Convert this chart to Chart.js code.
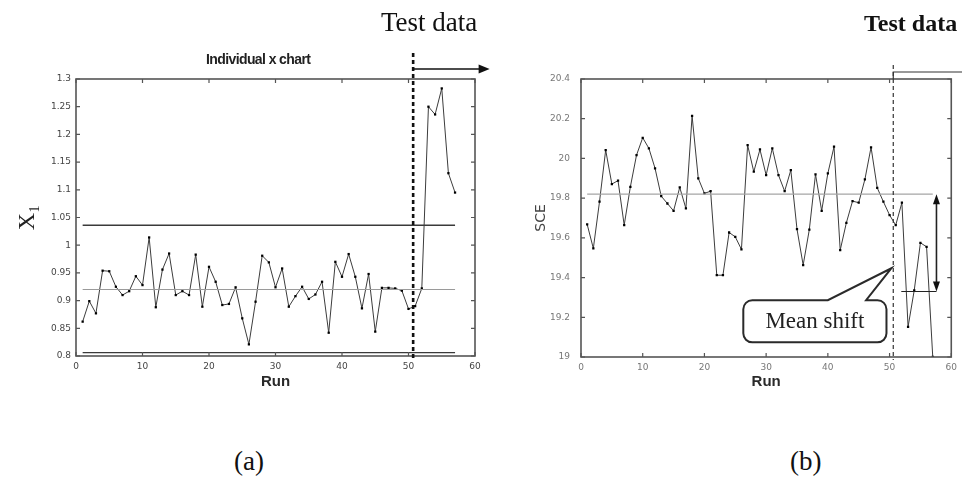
<!DOCTYPE html>
<html>
<head>
<meta charset="utf-8">
<script src="https://cdn.jsdelivr.net/npm/chart.js@4.4.0/dist/chart.umd.min.js"></script>
<style>
  html,body{margin:0;padding:0;background:#fff;}
  body{width:962px;height:485px;overflow:hidden;position:relative;}
  canvas{position:absolute;top:0;}
  #ca{left:0;}
  #cb{left:500px;}
  .txt{position:absolute;white-space:nowrap;color:#111;}
  .serif{font-family:"Liberation Serif","DejaVu Serif",serif;}
  .sans{font-family:"Liberation Sans","DejaVu Sans",sans-serif;}
</style>
</head>
<body>
<canvas id="ca" width="500" height="400"></canvas>
<canvas id="cb" width="462" height="400"></canvas>

<div class="txt serif" style="left:381px;top:7px;font-size:27px;">Test data</div>
<div class="txt serif" style="left:864px;top:10px;font-size:24px;font-weight:bold;">Test data</div>
<div class="txt sans" style="left:206px;top:51px;font-size:14px;font-weight:bold;letter-spacing:-0.6px;color:#222;">Individual x chart</div>
<div class="txt serif" style="left:234px;top:446px;font-size:27px;">(a)</div>
<div class="txt serif" style="left:790px;top:446px;font-size:27px;">(b)</div>
<div id="callout" class="txt serif" style="font-size:23px;color:#222;">Mean shift</div>

<script>
// ---------------- data ----------------
const runs = [1,2,3,4,5,6,7,8,9,10,11,12,13,14,15,16,17,18,19,20,21,22,23,24,25,26,27,28,29,30,
              31,32,33,34,35,36,37,38,39,40,41,42,43,44,45,46,47,48,49,50,51,52,53,54,55,56,57];
const x1Values = [0.862,0.899,0.877,0.954,0.953,0.925,0.910,0.917,0.944,0.928,
                  1.014,0.888,0.956,0.985,0.910,0.917,0.910,0.983,0.889,0.961,
                  0.934,0.892,0.894,0.924,0.868,0.821,0.898,0.981,0.969,0.924,
                  0.958,0.889,0.908,0.925,0.903,0.911,0.934,0.842,0.970,0.943,
                  0.984,0.943,0.886,0.948,0.844,0.923,0.923,0.922,0.918,0.885,
                  0.890,0.922,1.250,1.236,1.283,1.130,1.095];
const sceValues = [19.668,19.547,19.782,20.042,19.871,19.888,19.664,19.857,20.017,20.104,
                   20.051,19.950,19.810,19.773,19.736,19.854,19.748,20.214,19.900,19.824,
                   19.835,19.412,19.412,19.627,19.605,19.542,20.067,19.933,20.045,19.916,
                   20.051,19.916,19.835,19.941,19.644,19.463,19.642,19.920,19.736,19.925,
                   20.059,19.538,19.676,19.785,19.777,19.894,20.056,19.852,19.782,19.715,
                   19.664,19.777,19.152,19.336,19.575,19.555,19.000];
const xTicks = [0,10,20,30,40,50,60];
const x1Ticks = [0.8,0.85,0.9,0.95,1,1.05,1.1,1.15,1.2,1.25,1.3];
const sceTicks = [19,19.2,19.4,19.6,19.8,20,20.2,20.4];
const limitRuns = [1,57];
const x1UCL = 1.036, x1CL = 0.920, x1LCL = 0.806;
const sceCL = 19.82;
const sceShiftMean = 19.33;
const shiftRuns = [51.9,57.6];
const testStartA = 50.7, testStartB = 50.6;

// ---------------- helpers ----------------
const pts = (xs, ys) => xs.map((x,i)=>({x:x, y:ys[i]}));
const hline = (v, xs) => xs.map(r=>({x:r, y:v}));
const fmt = v => String(Number(v.toFixed(2)));

function lineDs(data, color, width, pr){
  return {data:data, borderColor:color, borderWidth:width, pointRadius:pr||0,
          pointBackgroundColor:'#000', pointBorderColor:'#000', pointBorderWidth:0,
          pointStyle:'rect', tension:0, fill:false};
}

function frameTicks(chart, xt, yt, col){
  const {ctx, chartArea:a, scales:{x, y}} = chart;
  ctx.save();
  ctx.strokeStyle = col; ctx.lineWidth = 1.6;
  ctx.strokeRect(a.left, a.top, a.right-a.left, a.bottom-a.top);
  ctx.lineWidth = 1.2;
  ctx.beginPath();
  xt.forEach(v=>{const p=x.getPixelForValue(v);
    ctx.moveTo(p,a.bottom); ctx.lineTo(p,a.bottom-4);
    ctx.moveTo(p,a.top); ctx.lineTo(p,a.top+4);});
  yt.forEach(v=>{const p=y.getPixelForValue(v);
    ctx.moveTo(a.left,p); ctx.lineTo(a.left+4,p);
    ctx.moveTo(a.right,p); ctx.lineTo(a.right-4,p);});
  ctx.stroke();
  ctx.restore();
}

function tri(ctx, x, y, dir, w, h){
  ctx.beginPath();
  if(dir==='right'){ctx.moveTo(x,y);ctx.lineTo(x-h,y-w/2);ctx.lineTo(x-h,y+w/2);}
  if(dir==='up'){ctx.moveTo(x,y);ctx.lineTo(x-w/2,y+h);ctx.lineTo(x+w/2,y+h);}
  if(dir==='down'){ctx.moveTo(x,y);ctx.lineTo(x-w/2,y-h);ctx.lineTo(x+w/2,y-h);}
  ctx.closePath(); ctx.fill();
}

function makeOptions(yTicks, yMin, yMax, cfg){
  return {
    responsive:false, animation:false, devicePixelRatio:1,
    layout:{padding:{top:79, right:cfg.padRight, bottom:0, left:0}},
    plugins:{legend:{display:false}, tooltip:{enabled:false}},
    scales:{
      x:{type:'linear', min:0, max:60,
         afterBuildTicks:s=>{s.ticks = xTicks.map(v=>({value:v}));},
         afterFit:s=>{s.height = cfg.xHeight;},
         grid:{display:false, drawTicks:false}, border:{display:false},
         ticks:{autoSkip:false, maxRotation:0, padding:5, color:cfg.tickColor,
                font:{family:'DejaVu Sans', size:9}, callback:v=>fmt(v)},
         title:{display:true, text:'Run', color:'#2a2a2a',
                font:{family:'Liberation Sans', size:15, weight:'bold'},
                padding:{top:0,bottom:9}}},
      y:{type:'linear', min:yMin, max:yMax,
         afterBuildTicks:s=>{s.ticks = yTicks.map(v=>({value:v}));},
         afterFit:s=>{s.width = cfg.yWidth;},
         grid:{display:false, drawTicks:false}, border:{display:false},
         ticks:{autoSkip:false, padding:cfg.yPad, color:cfg.tickColor,
                font:{family:'DejaVu Sans', size:9}, callback:v=>fmt(v)},
         title:{display:true, text:cfg.yTitle, color:cfg.yTitleColor,
                font:cfg.yTitleFont, padding:{top:cfg.yTitlePad, bottom:0}}}
    }
  };
}

// ---------------- chart (a) ----------------
const decoA = {id:'decoA', afterDraw(chart){
  const {ctx, chartArea:a, scales:{x}} = chart;
  frameTicks(chart, xTicks, x1Ticks, '#555');
  const xp = x.getPixelForValue(testStartA);
  ctx.save();
  ctx.strokeStyle = '#111'; ctx.lineWidth = 2.6; ctx.setLineDash([4,3]);
  ctx.beginPath(); ctx.moveTo(xp, a.top-26); ctx.lineTo(xp, a.bottom+3); ctx.stroke();
  ctx.setLineDash([]); ctx.lineWidth = 1.3;
  const ay = a.top-10;
  const xe = x.getPixelForValue(61.9);
  ctx.beginPath(); ctx.moveTo(xp, ay); ctx.lineTo(xe-8, ay); ctx.stroke();
  ctx.fillStyle = '#111'; tri(ctx, xe+2, ay, 'right', 9, 11);
  ctx.restore();
}};

new Chart(document.getElementById('ca'), {
  type:'line',
  data:{datasets:[
    lineDs(hline(x1UCL, limitRuns), '#3a3a3a', 1.3),
    lineDs(hline(x1CL, limitRuns), '#9a9a9a', 1.1),
    lineDs(hline(x1LCL, limitRuns), '#3a3a3a', 1.3),
    lineDs(pts(runs, x1Values), '#3c3c3c', 1, 1.6)
  ]},
  options:makeOptions(x1Ticks, 0.8, 1.3, {
    padRight:25, xHeight:44, yWidth:76, yPad:5, tickColor:'#444',
    yTitle:'X\u2081', yTitleColor:'#222', yTitlePad:13,
    yTitleFont:{family:'Liberation Serif', size:24}
  }),
  plugins:[decoA]
});

// ---------------- chart (b) ----------------
const decoB = {id:'decoB', afterDraw(chart){
  const {ctx, chartArea:a, scales:{x, y}} = chart;
  frameTicks(chart, xTicks, sceTicks, '#555');
  const xp = x.getPixelForValue(testStartB);
  ctx.save();
  // test-data divider
  ctx.strokeStyle = '#333'; ctx.lineWidth = 1.2; ctx.setLineDash([4,3]);
  ctx.beginPath(); ctx.moveTo(xp, a.top-14); ctx.lineTo(xp, a.bottom+3); ctx.stroke();
  ctx.setLineDash([]);
  ctx.beginPath(); ctx.moveTo(xp, a.top); ctx.lineTo(xp, a.top-7); ctx.lineTo(chart.width, a.top-7); ctx.stroke();
  // shifted mean line + double arrow
  const ys = y.getPixelForValue(sceShiftMean), yc = y.getPixelForValue(sceCL);
  const xa = x.getPixelForValue(shiftRuns[1]);
  ctx.strokeStyle = '#222'; ctx.lineWidth = 1.1;
  ctx.beginPath(); ctx.moveTo(x.getPixelForValue(shiftRuns[0]), ys); ctx.lineTo(xa, ys); ctx.stroke();
  ctx.lineWidth = 1.6;
  ctx.beginPath(); ctx.moveTo(xa, yc+8); ctx.lineTo(xa, ys-8); ctx.stroke();
  ctx.fillStyle = '#111';
  tri(ctx, xa, yc, 'up', 7, 10);
  tri(ctx, xa, ys, 'down', 7, 10);
  // callout
  const bl = x.getPixelForValue(26.3), br = x.getPixelForValue(49.5);
  const bt = y.getPixelForValue(19.286), bb = y.getPixelForValue(19.074);
  const t1 = x.getPixelForValue(40), t2 = x.getPixelForValue(46.2);
  const tipX = x.getPixelForValue(50.3), tipY = y.getPixelForValue(19.447);
  const r = 9;
  ctx.beginPath();
  ctx.moveTo(bl+r, bt); ctx.lineTo(t1, bt); ctx.lineTo(tipX, tipY); ctx.lineTo(t2, bt);
  ctx.lineTo(br-r, bt); ctx.arcTo(br, bt, br, bt+r, r);
  ctx.lineTo(br, bb-r); ctx.arcTo(br, bb, br-r, bb, r);
  ctx.lineTo(bl+r, bb); ctx.arcTo(bl, bb, bl, bb-r, r);
  ctx.lineTo(bl, bt+r); ctx.arcTo(bl, bt, bl+r, bt, r);
  ctx.closePath();
  ctx.fillStyle = '#fff'; ctx.fill();
  ctx.strokeStyle = '#2a2a2a'; ctx.lineWidth = 2; ctx.stroke();
  ctx.restore();
  const c = document.getElementById('callout');
  const cv = chart.canvas;
  c.style.left = (cv.offsetLeft + (bl+br)/2 - c.offsetWidth/2) + 'px';
  c.style.top = ((bt+bb)/2 - c.offsetHeight/2) + 'px';
}};

new Chart(document.getElementById('cb'), {
  type:'line',
  data:{datasets:[
    lineDs(hline(sceCL, limitRuns), '#a5a5a5', 1.1),
    lineDs(pts(runs, sceValues), '#3c3c3c', 1, 1.6)
  ]},
  options:makeOptions(sceTicks, 19, 20.4, {
    padRight:3, xHeight:43, yWidth:81, yPad:11, tickColor:'#777',
    yTitle:'SCE', yTitleColor:'#444', yTitlePad:33,
    yTitleFont:{family:'DejaVu Sans', size:14}
  }),
  plugins:[decoB]
});
</script>
</body>
</html>
